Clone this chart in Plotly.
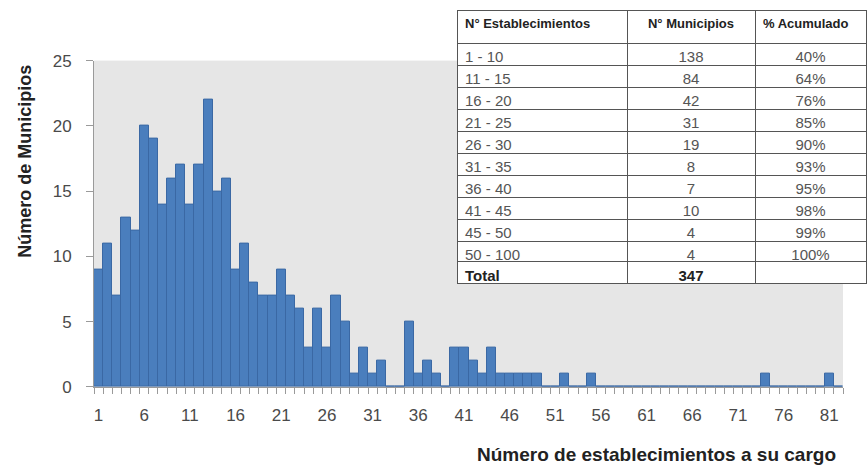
import plotly.graph_objects as go

# Histogram data: number of municipios per count of establishments (1..82)
establecimientos = list(range(1, 83))
municipios = [9, 11, 7, 13, 12, 20, 19, 14, 16, 17,
              14, 17, 22, 15, 16, 9, 11, 8, 7, 7,
              9, 7, 6, 3, 6, 3, 7, 5, 1, 3,
              1, 2, 0, 0, 5, 1, 2, 1, 0, 3,
              3, 2, 1, 3, 1, 1, 1, 1, 1, 0,
              0, 1, 0, 0, 1, 0, 0, 0, 0, 0,
              0, 0, 0, 0, 0, 0, 0, 0, 0, 0,
              0, 0, 0, 1, 0, 0, 0, 0, 0, 0,
              1, 0]

# Summary table
tabla_rangos = ["1 - 10", "11 - 15", "16 - 20", "21 - 25", "26 - 30",
                "31 - 35", "36 - 40", "41 - 45", "45 - 50", "50 - 100"]
tabla_municipios = [138, 84, 42, 31, 19, 8, 7, 10, 4, 4]
tabla_acumulado = ["40%", "64%", "76%", "85%", "90%", "93%", "95%", "98%", "99%", "100%"]
tabla_header = ["N° Establecimientos", "N° Municipios", "% Acumulado"]
tabla_total = ["Total", str(sum(tabla_municipios)), ""]

x_tick_labels = list(range(1, 82, 5))

W, H = 867, 470
ML, MR, MT, MB = 94, 1, 7, 83
PW, PH = W - ML - MR, H - MT - MB

def py(px):
    return (H - MB - px) / PH

fig = go.Figure()
fig.add_trace(go.Bar(
    x=establecimientos, y=municipios, width=1.0,
    marker=dict(color="#4a7ebd", line=dict(color="#3a68a4", width=1)),
    showlegend=False, hoverinfo="skip",
))

TX = [(457 - ML) / PW, 1.0]
CW = [170, 128, 111]
LINE = dict(color="#555555", width=1)
FAM = "Liberation Sans, Arial"

fig.add_trace(go.Table(
    domain=dict(x=TX, y=[py(262), 1.0]),
    columnwidth=CW,
    header=dict(
        values=tabla_header,
        align=["left", "center", "left"],
        fill_color="white", line=LINE,
        font=dict(family=FAM, size=13, color="#222222", weight="bold"),
        height=33,
    ),
    cells=dict(
        values=[tabla_rangos, [str(v) for v in tabla_municipios], tabla_acumulado],
        align=["left", "center", "center"],
        fill_color="white", line=LINE,
        font=dict(family=FAM, size=15, color="#555555"),
        height=22,
    ),
))

# Total row (bold)
fig.add_trace(go.Table(
    domain=dict(x=TX, y=[py(300), py(261)]),
    columnwidth=CW,
    header=dict(
        values=tabla_total,
        align=["left", "center", "center"],
        fill_color="white", line=LINE,
        font=dict(family=FAM, size=15, color="#222222", weight="bold"),
        height=22,
    ),
    cells=dict(values=[[], [], []], fill_color="white", line=LINE, height=22),
))

fig.update_layout(
    width=W, height=H,
    margin=dict(l=ML, r=MR, t=MT, b=MB, pad=0),
    paper_bgcolor="white",
    plot_bgcolor="#e6e6e6",
    bargap=0,
    font=dict(family=FAM, color="#555555"),
    xaxis=dict(
        domain=[0, (843 - ML) / PW],
        range=[0.5, 82.5],
        tickmode="array", tickvals=x_tick_labels,
        ticktext=[str(v) for v in x_tick_labels],
        ticks="", showgrid=False, zeroline=False,
        showline=True, linecolor="#9a9a9a", linewidth=1,
        tickfont=dict(size=17, color="#4a4a4a"),
        ticklabelstandoff=13,
        minor=dict(tickmode="linear", tick0=0.5, dtick=1, ticks="outside",
                   ticklen=6, tickcolor="#9a9a9a", showgrid=False),
    ),
    yaxis=dict(
        domain=[0, py(58)],
        range=[0, 25], tickmode="linear", tick0=0, dtick=5,
        ticks="outside", ticklen=7, tickcolor="#9a9a9a",
        showgrid=False, zeroline=False,
        showline=True, linecolor="#9a9a9a", linewidth=1,
        tickfont=dict(size=17, color="#4a4a4a"),
        ticklabelstandoff=11,
    ),
    annotations=[
        dict(text="<b>Número de Municipios</b>", xref="paper", yref="paper",
             x=(25 - ML) / PW, y=py(160), xanchor="center", yanchor="middle",
             textangle=-90, showarrow=False,
             font=dict(size=18, color="#222222", family=FAM)),
        dict(text="<b>Número de establecimientos a su cargo</b>", xref="paper", yref="paper",
             x=(656 - ML) / PW, y=py(455), xanchor="center", yanchor="middle",
             showarrow=False,
             font=dict(size=19, color="#222222", family=FAM)),
    ],
)

fig.write_html("out.html", config={"displayModeBar": False},
               post_script="document.body.style.margin='0';document.body.style.padding='0';")
